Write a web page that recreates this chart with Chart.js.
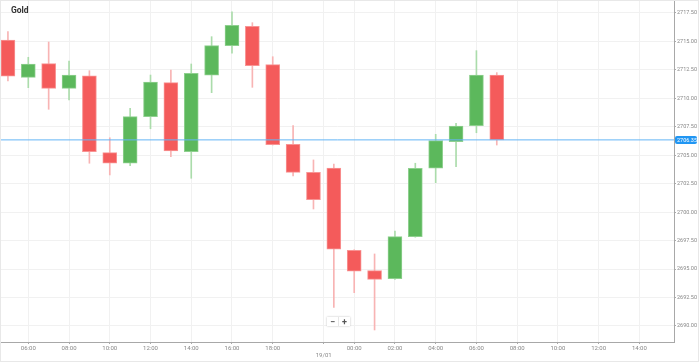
<!DOCTYPE html>
<html>
<head>
<meta charset="utf-8">
<script src="https://cdn.jsdelivr.net/npm/chart.js@4/dist/chart.umd.min.js"></script>
<style>
  html, body { margin: 0; padding: 0; background: #fff; }
  #wrap { position: relative; width: 697px; height: 360px; border: 1px solid #e8e8e8; }
  #zoomctl { position: absolute; left: 326px; top: 316px; display: flex; box-shadow: 0 0 2px rgba(0,0,0,0.25); background: #fff; }
  #zoomctl span { width: 11px; height: 9px; line-height: 9px; text-align: center; font: bold 9px Roboto, sans-serif; color: #555; }
  #zoomctl span + span { border-left: 1px solid #e6e6e6; }
</style>
</head>
<body>
<div id="wrap">
  <canvas id="c" width="697" height="360"></canvas>
  <div id="zoomctl"><span>−</span><span>+</span></div>
</div>
<script>
const symbol = 'Gold'
const hours = ['05:00','06:00','07:00','08:00','09:00','10:00','11:00','12:00','13:00','14:00','15:00','16:00','17:00',
  '18:00','19:00','20:00','21:00','00:00','01:00','02:00','03:00','04:00','05:00','06:00','07:00']
const open  = [2715.13, 2711.85, 2713.05, 2710.88, 2711.99, 2705.23, 2704.30, 2708.39, 2711.38, 2705.31, 2712.03, 2714.63, 2716.33,
  2712.96, 2705.96, 2703.50, 2703.88, 2696.65, 2694.86, 2694.16, 2697.85, 2703.86, 2706.19, 2707.60, 2712.05]
const high  = [2715.86, 2713.61, 2714.95, 2713.28, 2712.43, 2706.54, 2709.13, 2712.05, 2712.49, 2713.02, 2715.42, 2717.61, 2716.65,
  2713.66, 2707.60, 2704.59, 2704.23, 2696.70, 2696.33, 2698.35, 2704.30, 2706.84, 2707.81, 2714.19, 2712.26]
const low   = [2711.53, 2710.94, 2709.04, 2709.86, 2704.30, 2703.27, 2704.08, 2707.33, 2704.87, 2702.98, 2710.50, 2713.96, 2710.97,
  2705.90, 2703.18, 2700.28, 2691.64, 2692.93, 2689.65, 2694.10, 2697.80, 2702.59, 2704.00, 2706.98, 2705.90]
const close = [2711.94, 2713.02, 2710.88, 2712.05, 2705.31, 2704.30, 2708.39, 2711.44, 2705.38, 2712.20, 2714.63, 2716.42, 2712.87,
  2705.93, 2703.50, 2701.10, 2696.74, 2694.81, 2694.10, 2697.85, 2703.86, 2706.28, 2707.57, 2712.05, 2706.35]
const lastPrice = 2706.35

// x axis: candle index; tick positions and their labels
const xTickPos  = [1, 3, 5, 7, 9, 11, 13, 15.5, 17, 19, 21, 23, 25, 27, 29, 31]
const xTickText = ['06:00','08:00','10:00','12:00','14:00','16:00','18:00',['','19/01'],'00:00','02:00','04:00','06:00','08:00','10:00','12:00','14:00']
const yTicks = [2690, 2692.5, 2695, 2697.5, 2700, 2702.5, 2705, 2707.5, 2710, 2712.5, 2715, 2717.5]
const xMin = -0.34, xMax = 32.7
const yMin = 2688.594, yMax = 2718.554

const up = close.map((c, i) => c >= open[i])
const bodyColor = up.map(u => u ? '#5cb85c' : '#f45b5b')
const bodyEdge = up.map(u => u ? '#8fd08f' : '#f89494')
const wickColor = up.map(u => u ? '#abdcab' : '#f8b4b4')

const priceTag = {
  id: 'priceTag',
  afterDraw(chart) {
    const ctx = chart.ctx, y = chart.scales.y.getPixelForValue(lastPrice)
    const x = chart.chartArea.right + 1
    ctx.save()
    ctx.fillStyle = '#2196f3'
    ctx.beginPath()
    ctx.roundRect(x, y - 4, 22, 8, 2)
    ctx.fill()
    ctx.fillStyle = '#fff'
    ctx.font = '5.5px Roboto'
    ctx.textBaseline = 'middle'
    ctx.fillText(lastPrice.toFixed(2), x + 2, y + 0.5)
    ctx.restore()
  }
}
const titleText = {
  id: 'titleText',
  afterDraw(chart) {
    const ctx = chart.ctx
    ctx.save()
    ctx.fillStyle = '#333'
    ctx.font = 'bold 8.5px Roboto'
    ctx.textBaseline = 'middle'
    ctx.fillText(symbol, chart.chartArea.left + 10, chart.chartArea.top + 10)
    ctx.restore()
  }
}

new Chart(document.getElementById('c'), {
  type: 'bar',
  data: {
    datasets: [
      {
        type: 'line',
        data: [{x: xMin, y: lastPrice}, {x: xMax, y: lastPrice}],
        borderColor: '#64b5f6',
        borderWidth: 1,
        pointRadius: 0,
        order: 1
      },
      {
        data: open.map((o, i) => ({x: i, y: [o, close[i]]})),
        backgroundColor: bodyColor,
        borderColor: bodyEdge,
        borderWidth: 1,
        borderSkipped: false,
        barThickness: 14,
        grouped: false,
        order: 2
      },
      {
        data: low.map((l, i) => ({x: i, y: [l, high[i]]})),
        backgroundColor: wickColor,
        borderWidth: 0,
        barThickness: 1,
        grouped: false,
        order: 3
      }
    ]
  },
  plugins: [priceTag, titleText],
  options: {
    responsive: false,
    animation: false,
    layout: { padding: 0 },
    plugins: { legend: { display: false }, tooltip: { enabled: false } },
    scales: {
      x: {
        type: 'linear',
        min: xMin,
        max: xMax,
        offset: false,
        grid: { offset: false, color: '#f1f1f1', tickColor: '#aaa', tickLength: 2 },
        border: { color: '#a8a8a8' },
        afterBuildTicks: s => { s.ticks = xTickPos.map(v => ({value: v})) },
        afterFit: s => { s.height = 19; s.paddingLeft = 0; s.paddingRight = 0 },
        ticks: {
          autoSkip: false,
          maxRotation: 0,
          padding: 1,
          color: '#888',
          font: { family: 'Roboto', size: 6 },
          callback: (v, i) => xTickText[i]
        }
      },
      y: {
        position: 'right',
        min: yMin,
        max: yMax,
        grid: { color: '#f1f1f1', tickColor: '#aaa', tickLength: 2 },
        border: { color: '#a8a8a8' },
        afterBuildTicks: s => { s.ticks = yTicks.map(v => ({value: v})) },
        afterFit: s => { s.width = 24; s.paddingTop = 0; s.paddingBottom = 0 },
        ticks: {
          padding: 1,
          color: '#888',
          font: { family: 'Roboto', size: 5.5 },
          callback: v => v.toFixed(2)
        }
      }
    }
  }
})
</script>
</body>
</html>
